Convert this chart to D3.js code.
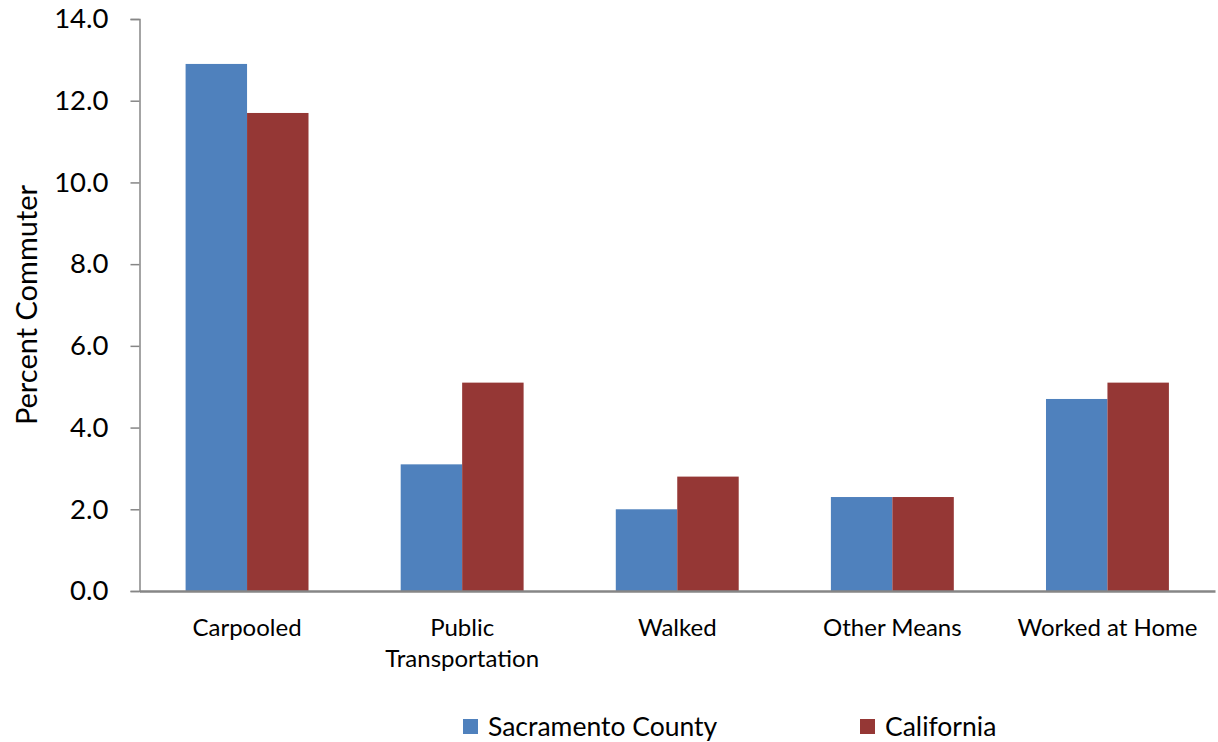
<!DOCTYPE html>
<html><head><meta charset="utf-8">
<script src="https://cdn.jsdelivr.net/npm/d3@7"></script>
<style>body{margin:0;background:#fff}svg{display:block}text{font-family:Lato,"Open Sans",sans-serif;fill:#000}</style>
</head><body>
<script>
const categories = ["Carpooled", "Public Transportation", "Walked", "Other Means", "Worked at Home"];
const categoryLines = [["Carpooled"], ["Public", "Transportation"], ["Walked"], ["Other Means"], ["Worked at Home"]];
const seriesNames = ["Sacramento County", "California"];
const sacramento = [12.9, 3.1, 2.0, 2.3, 4.7];
const california = [11.7, 5.1, 2.8, 2.3, 5.1];
const yTicks = [0, 2, 4, 6, 8, 10, 12, 14];
const colors = ["#4F81BD", "#953735"];

const W = 1218, H = 742;
const m = {left: 139.5, right: 3, top: 19, bottom: 151};
const svg = d3.select("body").append("svg").attr("width", W).attr("height", H);

const x = d3.scaleBand().domain(categories).range([m.left, W - m.right]).paddingInner(0).paddingOuter(0);
const x1 = d3.scaleBand().domain(seriesNames).range([0, x.bandwidth()]).paddingInner(0).paddingOuter(0.75);
const y = d3.scaleLinear().domain([0, 14]).range([H - m.bottom, m.top]);

const data = [sacramento, california];

// bars
const g = svg.append("g");
categories.forEach((c, i) => {
  seriesNames.forEach((s, j) => {
    g.append("rect")
      .attr("x", x(c) + x1(s))
      .attr("y", y(data[j][i]))
      .attr("width", x1.bandwidth())
      .attr("height", y(0) - y(data[j][i]))
      .attr("fill", colors[j]);
  });
});

// y axis
const yAxis = svg.append("g").attr("transform", `translate(${m.left},0)`)
  .call(d3.axisLeft(y).tickValues(yTicks).tickFormat(d3.format(".1f")).tickSize(9).tickPadding(22));
yAxis.select(".domain").attr("stroke", "#868686").attr("stroke-width", 1.5);
yAxis.selectAll(".tick line").attr("stroke", "#868686").attr("stroke-width", 1.5);
yAxis.selectAll(".tick text").attr("font-size", 27.5).attr("font-family", "Lato").attr("fill", "#000");

// x axis
const xAxis = svg.append("g").attr("transform", `translate(0,${y(0)})`)
  .call(d3.axisBottom(x).tickSize(0).tickFormat(""));
xAxis.select(".domain").attr("stroke", "#868686").attr("stroke-width", 2.5);
xAxis.selectAll(".tick").each(function(d, i) {
  const t = d3.select(this).select("text").text(null).attr("y", 0).attr("dy", null);
  categoryLines[i].forEach((ln, k) => {
    t.append("tspan").attr("x", 0).attr("y", 45 + k * 31).text(ln);
  });
});
xAxis.selectAll(".tick text").attr("font-size", 24).attr("font-family", "Lato").attr("fill", "#000");

// y title
svg.append("text")
  .attr("transform", `translate(37,${(y(0) + y(14)) / 2}) rotate(-90)`)
  .attr("text-anchor", "middle").attr("font-size", 29)
  .text("Percent Commuter");

// legend
const legendX = [463, 860];
seriesNames.forEach((s, j) => {
  svg.append("rect").attr("x", legendX[j]).attr("y", 719).attr("width", 15).attr("height", 15).attr("fill", colors[j]);
  svg.append("text").attr("x", legendX[j] + 25).attr("y", 736).attr("font-size", 26.5).text(s);
});
</script>
</body></html>
